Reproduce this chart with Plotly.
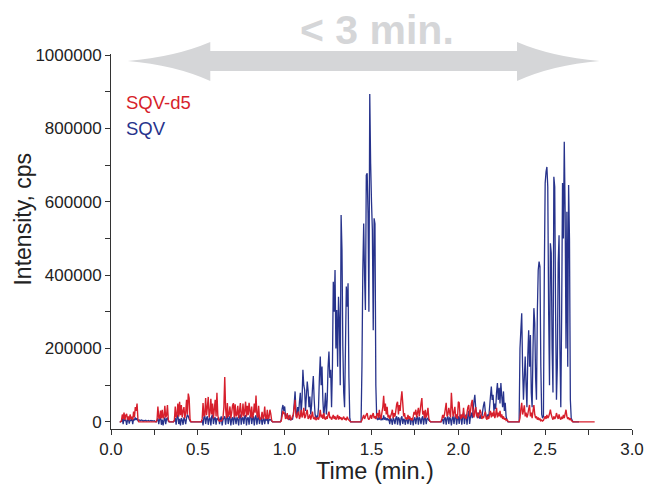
import plotly.graph_objects as go

# ---- data (intensity in thousands of cps, sampled every 0.005 min from t = 0.00) ----
t_start = 0.0
t_step = 0.005
N = None

sqv_d5_k = [
    N, N, N, N, N, N, N, N, N, N, 0, 0, 2, 20, 8, 25, 5, 18, 22, 6,
    15, 4, 20, 8, 14, 5, 28, 12, 40, 30, 50, 8, 0, 0, 0, 0, 0, 0, 0, 0,
    0, 0, 0, 0, 0, 0, 0, 0, 0, 0, 0, 0, 0, 5, 42, 12, 8, 31, 10, 33,
    9, 14, 44, 12, 18, 46, 6, 0, 0, 0, 0, 0, 0, 5, 42, 12, 20, 50, 14, 55,
    18, 46, 12, 30, 40, 10, 25, 60, 20, 77, 65, 8, 0, 0, 0, 0, 0, 0, 0, 0,
    0, 0, 0, 0, 0, 8, 51, 15, 20, 65, 18, 40, 68, 12, 25, 63, 20, 50, 10, 35,
    60, 15, 79, 18, 4, 2, 3, 2, 5, 12, 40, 122, 35, 10, 51, 14, 20, 42, 10, 25,
    45, 51, 12, 48, 15, 20, 44, 10, 30, 51, 12, 20, 50, 15, 30, 55, 14, 44, 18, 52,
    30, 12, 42, 10, 20, 50, 25, 72, 20, 12, 44, 10, 6, 12, 27, 8, 15, 42, 10, 8,
    33, 8, 12, 33, 22, 4, 0, 0, 0, 0, 0, 0, 0, 0, 0, 0, 2, 15, 30, 22,
    25, 8, 12, 24, 6, 10, 19, 5, 8, 15, 20, 40, 60, 15, 10, 22, 28, 8, 15, 33,
    12, 20, 38, 10, 14, 25, 33, 8, 12, 20, 6, 15, 28, 10, 8, 14, 5, 8, 12, 6,
    15, 33, 12, 20, 8, 24, 10, 6, 15, 8, 20, 28, 10, 14, 6, 12, 19, 8, 15, 6,
    12, 19, 6, 15, 8, 12, 5, 10, 14, 6, 10, 4, 14, 8, 5, 2, 0, 0, 0, 0,
    0, 0, 0, 0, 0, 0, 0, 0, 0, 5, 12, 19, 8, 14, 20, 24, 10, 6, 12, 19,
    8, 18, 24, 10, 15, 8, 20, 24, 10, 33, 15, 8, 25, 40, 71, 30, 50, 20, 41, 12,
    19, 8, 15, 22, 33, 10, 24, 14, 30, 48, 55, 20, 46, 30, 60, 83, 51, 15, 24, 8,
    12, 6, 19, 8, 15, 5, 10, 4, 14, 27, 20, 33, 12, 25, 38, 15, 30, 50, 65, 20,
    30, 10, 33, 12, 20, 38, 10, 3, 0, 0, 0, 0, 0, 0, 0, 0, 0, 0, 0, 0,
    0, 8, 19, 10, 20, 35, 52, 15, 20, 38, 25, 12, 79, 40, 14, 25, 41, 12, 20, 8,
    55, 52, 15, 8, 20, 12, 38, 10, 15, 8, 25, 40, 46, 15, 30, 50, 60, 20, 12, 30,
    40, 15, 25, 10, 20, 33, 25, 8, 15, 10, 20, 28, 10, 6, 15, 8, 20, 30, 12, 25,
    15, 30, 10, 20, 38, 12, 25, 15, 30, 12, 20, 8, 15, 6, 10, 4, 6, 2, 0, 0,
    0, 0, 0, 0, 0, 0, 0, 0, 0, 0, 0, 10, 35, 52, 20, 30, 45, 15, 25, 12,
    20, 35, 46, 15, 25, 10, 30, 46, 20, 10, 15, 6, 12, 5, 8, 3, 5, 2, 4, 10,
    15, 8, 19, 10, 14, 22, 33, 20, 12, 6, 15, 8, 12, 24, 15, 8, 20, 10, 6, 14,
    8, 19, 10, 22, 33, 15, 8, 12, 5, 10, 4, 2, 0, 0, 0, 0, 0, 0, 0, 0,
    0, 0, 0, 0, 0, 0, 0, 0, 0, 0, 0, 0, 0, 0, 0, 0, 0, 0, N, N,
]

sqv_k = [
    N, N, N, N, N, N, N, N, N, N, 0, 0, 2, 8, -6, 10, 3, 6, -8, 5,
    8, -5, 6, 3, 10, -6, 8, 4, 12, 5, 10, 3, 4, 5, 3, 5, 4, 2, 4, 3,
    4, 2, 3, 4, 2, 3, 4, 2, 3, 2, 3, 1, 0, 4, 10, -6, 8, 15, -8, 6,
    -10, 5, 12, -6, 8, 10, 2, 0, 0, 0, 0, 0, 0, 3, 10, -8, 12, 20, -6, 8,
    -10, 10, 5, -8, 12, 6, -6, 10, 20, 15, 8, 2, 0, 0, 0, 0, 0, 0, 0, 0,
    0, 0, 0, 0, 0, 5, -10, 12, 18, -6, 10, 15, -8, 8, 12, -10, 15, 20, -6, 10,
    12, -8, 10, 5, 12, -6, 8, 15, -10, 6, 10, 15, -8, 12, 18, -6, 10, 15, -10, 8,
    12, -8, 15, 10, -6, 12, 8, -10, 15, 20, -8, 10, 12, -6, 15, 18, -10, 10, 12, -8,
    15, 20, -6, 10, 15, -10, 12, 18, -8, 10, 15, -6, 8, 12, -8, 6, 10, -6, 8, 5,
    10, -6, 8, 5, 6, 2, 0, 0, 0, 0, 0, 0, 0, 0, 0, 0, 5, 35, 46, 30,
    42, 15, 20, 8, 18, 5, 12, 4, 10, 6, 20, 50, 83, 30, 15, 40, 20, 55, 79, 25,
    60, 142, 100, 87, 30, 70, 110, 85, 40, 69, 20, 45, 90, 125, 60, 20, 10, 15, 12, 40,
    120, 178, 100, 151, 60, 15, 40, 79, 20, 60, 150, 192, 120, 142, 40, 150, 382, 300, 414, 200,
    305, 150, 341, 278, 100, 564, 469, 205, 80, 40, 200, 369, 314, 378, 120, 10, 0, 0, 0, 0,
    0, 0, 0, 0, 0, 0, 0, 0, 0, 150, 414, 541, 400, 305, 673, 678, 569, 300, 894, 705,
    600, 523, 250, 555, 540, 100, 10, 5, 12, 6, 15, 4, 10, 5, 18, 6, 12, 4, 10, 5,
    8, -6, 10, 5, -8, 12, 6, -6, 10, 15, -8, 12, 8, -10, 10, 15, -6, 8, 5, -8,
    10, 6, -6, 8, 12, -8, 6, 10, -10, 8, 12, -6, 10, 15, -8, 12, 8, -6, 10, 15,
    -8, 10, 12, -6, 8, 10, 4, 2, 0, 0, 0, 0, 0, 0, 0, 0, 0, 0, 0, 0,
    0, 4, 8, -6, 10, 12, -8, 10, 15, -6, 12, 8, -10, 10, 15, -6, 12, 20, -8, 10,
    15, -6, 20, 10, -8, 15, 25, -6, 12, 20, -8, 18, 30, -6, 15, 25, 10, 30, 55, 74,
    40, 20, 10, 25, 15, 8, 20, 10, 30, 45, 55, 30, 15, 10, 20, 12, 40, 70, 96, 60,
    74, 30, 50, 35, 80, 106, 60, 93, 50, 106, 70, 40, 83, 30, 52, 15, 5, 0, 0, 0,
    0, 0, 0, 0, 0, 0, 0, 0, 0, 0, 0, 200, 250, 296, 150, 60, 120, 178, 100, 40,
    180, 250, 150, 237, 80, 40, 200, 310, 270, 120, 60, 300, 414, 437, 423, 150, 20, 10, 15, 400,
    651, 682, 695, 641, 300, 100, 487, 460, 200, 80, 668, 641, 300, 60, 150, 433, 509, 200, 40, 300,
    651, 500, 764, 573, 200, 573, 150, 646, 500, 60, 10, 5, 0, 0, 0, 0, 0, 0, 0, 0,
    N, N, N, N, N, N, N, N, N, N, N, N, N, N, N, N, N, N, N, N,
]

series_names = ["SQV-d5", "SQV"]
x_tick_vals = [0.0, 0.5, 1.0, 1.5, 2.0, 2.5, 3.0]
y_tick_vals = [0, 200000, 400000, 600000, 800000, 1000000]
y_tick_text = ["0", "200000", "400000", "600000", "800000", "1000000"]

RED = "#d71f2c"
BLUE = "#27338c"
FONT = "Liberation Sans, Arial, sans-serif"
AXIS = "#333333"

sqv_d5 = [None if v is None else v * 1000 for v in sqv_d5_k]
sqv = [None if v is None else v * 1000 for v in sqv_k]

fig = go.Figure()
fig.add_trace(go.Scatter(x0=t_start, dx=t_step, y=sqv, mode="lines", name=series_names[1],
                         line=dict(color=BLUE, width=1.3, simplify=False), connectgaps=False))
fig.add_trace(go.Scatter(x0=t_start, dx=t_step, y=sqv_d5, mode="lines", name=series_names[0],
                         line=dict(color=RED, width=1.4, simplify=False), connectgaps=False))

# plot area in reference-picture pixels; the page body adds an 8 px margin
OFF = 8
L, R, T, B = 111, 641, 54, 429
W, H = 656, 488


def px(x, y):
    return (x - L) / (R - L), (B - y) / (B - T)


def pt(x, y):
    a, b = px(x, y)
    return f"{a:.5f},{b:.5f}"


arrow = ("M" + pt(128, 61) + " Q" + pt(176, 57) + " " + pt(212, 42) +
         " L" + pt(212, 51) + " L" + pt(524, 51) + " L" + pt(524, 42) +
         " Q" + pt(560, 57) + " " + pt(608, 61) +
         " Q" + pt(560, 65) + " " + pt(524, 81) +
         " L" + pt(524, 71) + " L" + pt(212, 71) + " L" + pt(212, 81) +
         " Q" + pt(176, 65) + " " + pt(128, 61) + " Z")

fig.add_shape(type="path", path=arrow, xref="paper", yref="paper",
              fillcolor="#d5d6d8", line=dict(width=0), layer="above")

annos = []
ax, ay = px(382, 30)
annos.append(dict(x=ax, y=ay, xref="paper", yref="paper", text="<b>&lt; 3 min.</b>",
                  showarrow=False, font=dict(family=FONT, size=41, color="#d5d6d8"),
                  xanchor="center", yanchor="middle"))
lx, ly = px(124, 102)
annos.append(dict(x=lx, y=ly, xref="paper", yref="paper", text=series_names[0], showarrow=False,
                  font=dict(family=FONT, size=18.5, color=RED), xanchor="left", yanchor="middle"))
lx, ly = px(124, 128)
annos.append(dict(x=lx, y=ly, xref="paper", yref="paper", text=series_names[1], showarrow=False,
                  font=dict(family=FONT, size=18.5, color=BLUE), xanchor="left", yanchor="middle"))
tx, ty = px(380, 471)
annos.append(dict(x=tx, y=ty, xref="paper", yref="paper", text="Time (min.)", showarrow=False,
                  font=dict(family=FONT, size=23.5, color="#222222"), xanchor="center", yanchor="middle"))
yx, yy = px(21, 219)
annos.append(dict(x=yx, y=yy, xref="paper", yref="paper", text="Intensity, cps", showarrow=False,
                  textangle=-90,
                  font=dict(family=FONT, size=23, color="#222222"), xanchor="center", yanchor="middle"))

fig.update_layout(
    width=W - OFF, height=H - OFF,
    margin=dict(l=L - OFF, r=W - R, t=T - OFF, b=H - B, pad=0),
    paper_bgcolor="white", plot_bgcolor="white",
    showlegend=False,
    annotations=annos,
    font=dict(family=FONT, color="#222222"),
)
fig.update_xaxes(range=[0, 3], tickvals=x_tick_vals, tickformat=".1f",
                 showgrid=False, zeroline=False, showline=True, linecolor=AXIS, linewidth=1,
                 ticks="outside", ticklen=5, tickcolor=AXIS, tickwidth=1,
                 minor=dict(dtick=0.25, tick0=0, ticks="outside", ticklen=5, tickcolor=AXIS, showgrid=False),
                 tickfont=dict(family=FONT, size=17, color="#222222"))
fig.update_yaxes(range=[-19500, 1003000], tickvals=y_tick_vals, ticktext=y_tick_text,
                 showgrid=False, zeroline=False, showline=True, linecolor=AXIS, linewidth=1,
                 ticks="outside", ticklen=5, tickcolor=AXIS, tickwidth=1,
                 minor=dict(dtick=100000, tick0=0, ticks="outside", ticklen=5, tickcolor=AXIS, showgrid=False),
                 tickfont=dict(family=FONT, size=17, color="#222222"))

fig.write_html("out.html")
